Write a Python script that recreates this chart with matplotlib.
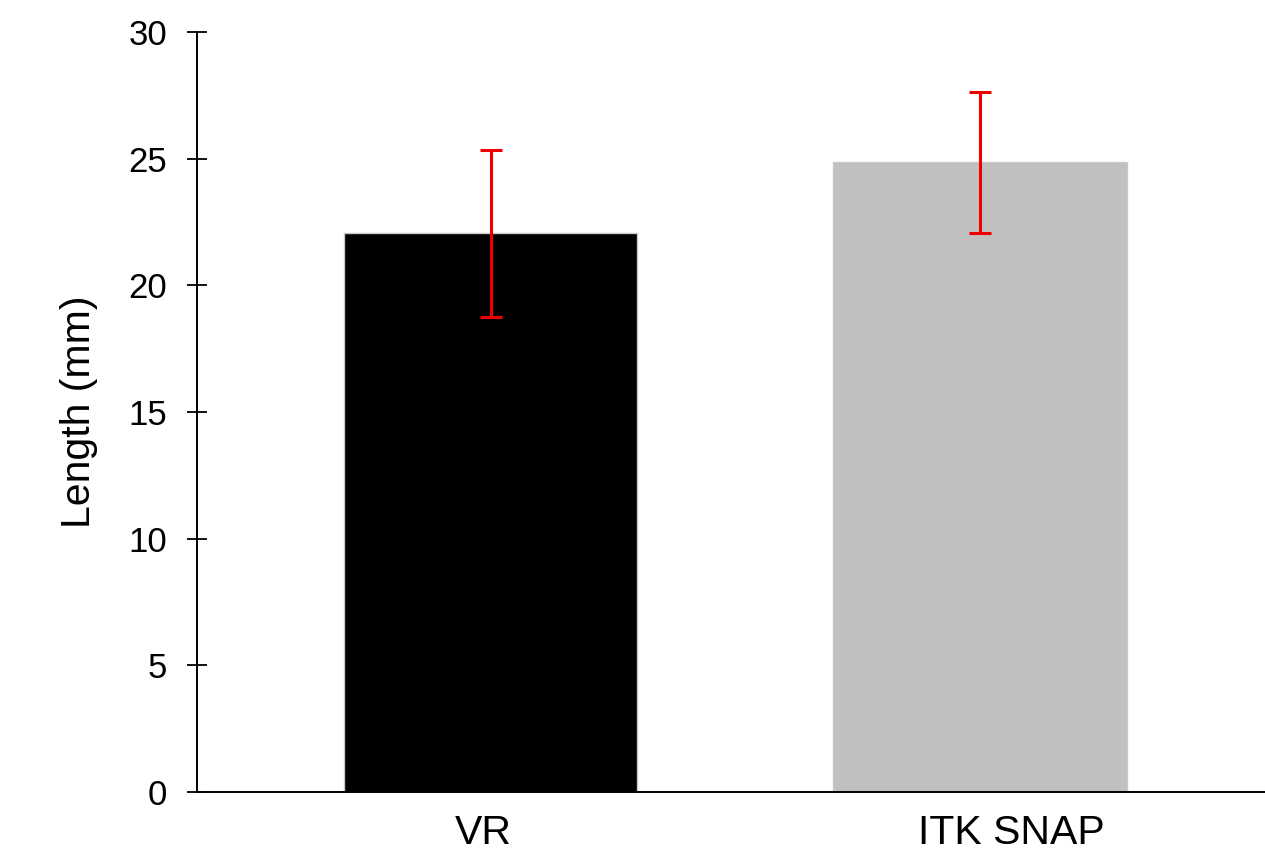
import matplotlib
matplotlib.use("Agg")
import matplotlib.pyplot as plt
import matplotlib.transforms as mtransforms

# values
groups = ["VR", "ITK SNAP"]
means = [22.05, 24.85]
errors = [3.3, 2.77]
bar_colors = ["#000000", "#c0c0c0"]
yticks = [0, 5, 10, 15, 20, 25, 30]

plt.rcParams["font.family"] = ["Liberation Sans", "DejaVu Sans"]

fig = plt.figure(figsize=(12.65, 8.55), dpi=100)
ax = fig.add_axes([0.1557, 0.0737, 0.8443, 0.8889])

x = list(range(len(groups)))
ax.bar(x, means, width=0.6, color=bar_colors, edgecolor="#c8c8c8", linewidth=1.0)
ax.errorbar(x, means, yerr=errors, fmt="none", ecolor="#ee0000",
            elinewidth=2.2, capsize=8, capthick=2.2)

ax.set_xlim(-0.6, 1.582)
ax.set_ylim(0, 30)
ax.set_yticks(yticks)
ax.set_xticks(x)
ax.set_xticklabels(groups, fontsize=29.5)
ax.set_ylabel("Length (mm)", fontsize=29.5, labelpad=22)

ax.tick_params(axis="y", direction="inout", length=15, width=1.3, labelsize=25, pad=14)
ax.tick_params(axis="x", length=0, pad=16)

# labels sit a little off the bar centres in the original
for lab, dx in zip(ax.get_xticklabels(), [-7, 31]):
    lab.set_transform(lab.get_transform() + mtransforms.ScaledTranslation(dx / 100, 0, fig.dpi_scale_trans))

for side in ["top", "right"]:
    ax.spines[side].set_visible(False)
ax.spines["left"].set_linewidth(1.4)
ax.spines["bottom"].set_linewidth(1.4)

fig.savefig("out.png", dpi=100)
plt.close(fig)
